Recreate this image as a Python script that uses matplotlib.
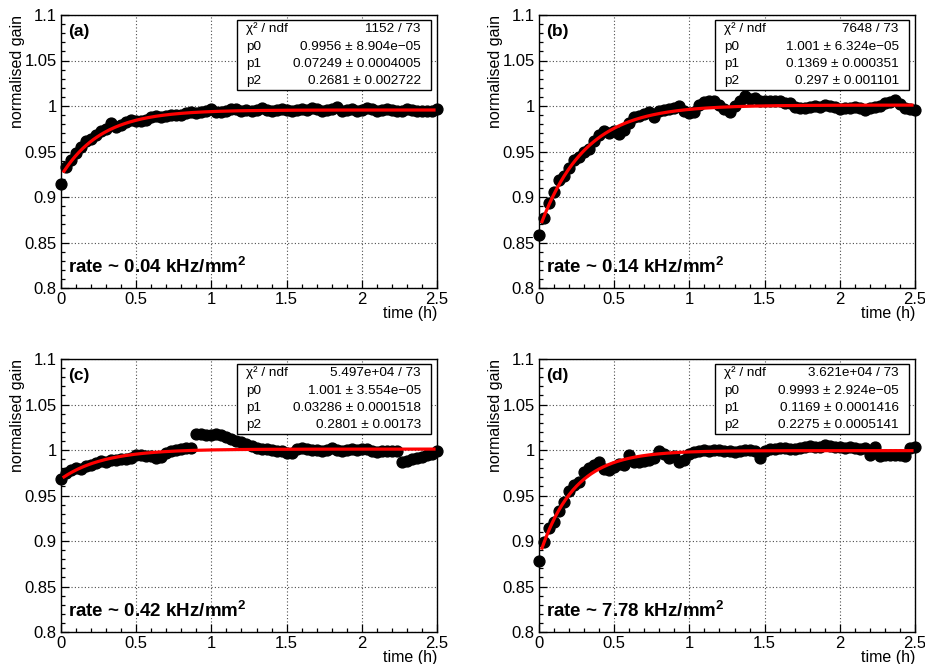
import numpy as np
import matplotlib
matplotlib.use("Agg")
import matplotlib.pyplot as plt
from matplotlib.ticker import MultipleLocator
from matplotlib.patches import Rectangle

plt.rcParams['font.family'] = ['Liberation Sans', 'DejaVu Sans']
plt.rcParams['mathtext.fontset'] = 'custom'
plt.rcParams['mathtext.rm'] = 'Liberation Sans'
plt.rcParams['mathtext.it'] = 'Liberation Sans:italic'
plt.rcParams['mathtext.bf'] = 'Liberation Sans:bold'

# Measurement times (minutes since start of irradiation)
minutes = [0, 2, 4, 6, 8, 10, 12, 14, 16, 18, 20, 22, 24, 26, 28, 30, 32, 34, 36, 38,
           40, 42, 44, 46, 48, 50, 52, 54, 56, 58, 60, 62, 64, 66, 68, 70, 72, 74, 76, 78,
           80, 82, 84, 86, 88, 90, 92, 94, 96, 98, 100, 102, 104, 106, 108, 110, 112, 114,
           116, 118, 120, 122, 124, 126, 128, 130, 132, 134, 136, 138, 140, 142, 144, 146,
           148, 150]

gain_a = [0.914, 0.933, 0.941, 0.948, 0.955, 0.961, 0.964, 0.968, 0.972, 0.975,
          0.981, 0.977, 0.979, 0.982, 0.985, 0.983, 0.984, 0.985, 0.988, 0.989,
          0.988, 0.989, 0.990, 0.990, 0.990, 0.992, 0.993, 0.992, 0.993, 0.995,
          0.997, 0.993, 0.993, 0.995, 0.997, 0.997, 0.995, 0.996, 0.995, 0.996,
          0.998, 0.996, 0.995, 0.996, 0.997, 0.996, 0.995, 0.996, 0.997, 0.996,
          0.998, 0.997, 0.995, 0.996, 0.997, 0.999, 0.994, 0.996, 0.997, 0.995,
          0.996, 0.998, 0.997, 0.995, 0.996, 0.997, 0.996, 0.994, 0.995, 0.997,
          0.996, 0.995, 0.994, 0.995, 0.995, 0.997]

gain_b = [0.858, 0.877, 0.893, 0.905, 0.919, 0.923, 0.932, 0.941, 0.944, 0.950,
          0.953, 0.961, 0.968, 0.972, 0.970, 0.972, 0.969, 0.974, 0.981, 0.988,
          0.989, 0.991, 0.993, 0.988, 0.995, 0.996, 0.997, 0.998, 1.000, 0.994,
          0.992, 0.993, 1.001, 1.004, 1.005, 1.006, 1.001, 0.997, 0.993, 1.000,
          1.005, 1.011, 1.008, 1.009, 1.006, 1.006, 1.006, 1.005, 1.005, 1.003,
          1.003, 0.999, 0.998, 0.998, 0.999, 1.000, 0.999, 1.001, 1.000, 0.999,
          0.997, 0.998, 0.998, 0.999, 0.998, 0.996, 0.998, 0.999, 1.000, 1.003,
          1.004, 1.007, 1.002, 0.998, 0.997, 0.996]

gain_c = [0.968, 0.975, 0.978, 0.980, 0.979, 0.982, 0.984, 0.986, 0.988, 0.987,
          0.989, 0.989, 0.990, 0.990, 0.991, 0.994, 0.994, 0.993, 0.993, 0.991,
          0.992, 0.997, 0.999, 1.000, 1.001, 1.002, 1.002, 1.018, 1.018, 1.017,
          1.017, 1.018, 1.016, 1.014, 1.012, 1.010, 1.009, 1.007, 1.004, 1.002,
          1.001, 1.001, 1.000, 0.999, 0.999, 0.997, 0.997, 1.001, 1.002, 1.001,
          1.000, 1.000, 0.999, 1.000, 1.002, 1.000, 0.999, 1.000, 1.001, 1.000,
          1.001, 1.001, 0.999, 0.998, 0.999, 0.999, 0.999, 0.999, 0.987, 0.988,
          0.990, 0.991, 0.992, 0.994, 0.996, 0.999]

gain_d = [0.878, 0.899, 0.914, 0.921, 0.933, 0.943, 0.955, 0.962, 0.965, 0.976,
          0.980, 0.983, 0.987, 0.979, 0.978, 0.981, 0.985, 0.984, 0.994, 0.987,
          0.987, 0.988, 0.989, 0.991, 0.999, 0.996, 0.991, 0.993, 0.987, 0.989,
          0.996, 0.998, 0.999, 1.000, 0.999, 1.000, 1.000, 0.999, 0.999, 0.998,
          0.999, 1.000, 1.000, 0.999, 0.991, 0.999, 1.001, 1.001, 1.002, 1.002,
          1.001, 1.001, 1.002, 1.003, 1.004, 1.003, 1.003, 1.005, 1.004, 1.003,
          1.003, 1.002, 1.003, 1.002, 1.001, 1.002, 0.995, 1.003, 0.993, 0.994,
          0.994, 0.995, 0.994, 0.993, 1.002, 1.003]

panel_tags = ['(a)', '(b)', '(c)', '(d)']
rates = ['0.04', '0.14', '0.42', '7.78']

# Fit results of g(t) = p0 - p1 * exp(-t / p2)
chi2 = [1152, 7648, 5.497e4, 3.621e4]
ndf = [73, 73, 73, 73]
p0 = [0.9956, 1.001, 1.001, 0.9993]
p0_err = [8.904e-05, 6.324e-05, 3.554e-05, 2.924e-05]
p1 = [0.07249, 0.1369, 0.03286, 0.1169]
p1_err = [0.0004005, 0.000351, 0.0001518, 0.0001416]
p2 = [0.2681, 0.297, 0.2801, 0.2275]
p2_err = [0.002722, 0.001101, 0.00173, 0.0005141]

series = [gain_a, gain_b, gain_c, gain_d]
t_hours = np.array(minutes) / 60.0


def fmt(v):
    return f"{v:.4g}".replace('-', '\u2212')


W, H = 925, 664
aw, ah = 376, 273
frames = [(61, 15), (539, 15), (61, 359), (539, 359)]

fig = plt.figure(figsize=(W / 100, H / 100), dpi=100)

for k, (lx, ty) in enumerate(frames):
    ax = fig.add_axes([lx / W, 1 - (ty + ah) / H, aw / W, ah / H])
    y = np.array(series[k])
    assert len(y) == len(t_hours)

    ax.set_xlim(0, 2.5)
    ax.set_ylim(0.8, 1.1)
    ax.xaxis.set_major_locator(MultipleLocator(0.5))
    ax.xaxis.set_minor_locator(MultipleLocator(0.1))
    ax.yaxis.set_major_locator(MultipleLocator(0.05))
    ax.yaxis.set_minor_locator(MultipleLocator(0.01))
    ax.xaxis.set_major_formatter(plt.FuncFormatter(lambda v, p: f"{v:g}"))
    ax.yaxis.set_major_formatter(plt.FuncFormatter(lambda v, p: f"{v:g}"))
    ax.tick_params(which='both', direction='in', top=False, right=False,
                   labelsize=12, colors='black', width=0.9)
    ax.tick_params(which='major', length=6, pad=3)
    ax.tick_params(which='minor', length=3)
    for s in ax.spines.values():
        s.set_linewidth(1.0)
        s.set_color('black')

    ax.grid(True, which='major', linestyle=(0, (1, 2)), color='0.3', linewidth=0.8)
    ax.set_axisbelow(True)

    ax.plot(t_hours, y, 'o', color='black', markersize=7.8, clip_on=False, zorder=3)

    tf = np.linspace(0.02, 2.48, 300)
    ax.plot(tf, p0[k] - p1[k] * np.exp(-tf / p2[k]), color='#ff0000',
            linewidth=2.3, zorder=4)

    ax.text(-0.117, 1.0, 'normalised gain', transform=ax.transAxes, rotation=90,
            ha='center', va='top', fontsize=11.5)
    ax.text(1.0, -0.092, 'time (h)', transform=ax.transAxes, ha='right',
            va='center', fontsize=11.5)

    ax.text(0.019, 0.938, panel_tags[k], transform=ax.transAxes, ha='left',
            va='center', fontsize=12.5, fontweight='bold')
    ax.text(0.019, 0.055, f'rate ~ {rates[k]} kHz/mm' + r'$^{\mathbf{2}}$',
            transform=ax.transAxes, ha='left', va='baseline', fontsize=13.5,
            fontweight='bold')

    box = Rectangle((0.468, 0.725), 0.516, 0.257, transform=ax.transAxes,
                    facecolor='white', edgecolor='black', linewidth=1.0, zorder=5)
    ax.add_patch(box)
    rows = [('\u03c7\u00b2 / ndf', f'{fmt(chi2[k])} / {ndf[k]}'),
            ('p0', f'{fmt(p0[k])} \u00b1 {fmt(p0_err[k])}'),
            ('p1', f'{fmt(p1[k])} \u00b1 {fmt(p1_err[k])}'),
            ('p2', f'{fmt(p2[k])} \u00b1 {fmt(p2_err[k])}')]
    for r, (lab, val) in enumerate(rows):
        yy = [0.949, 0.883, 0.821, 0.758][r]
        ax.text(0.492, yy, lab, transform=ax.transAxes, ha='left', va='center',
                fontsize=9.7, zorder=6)
        ax.text(0.957, yy, val, transform=ax.transAxes, ha='right', va='center',
                fontsize=9.7, zorder=6)

fig.savefig('out.png', dpi=100)
